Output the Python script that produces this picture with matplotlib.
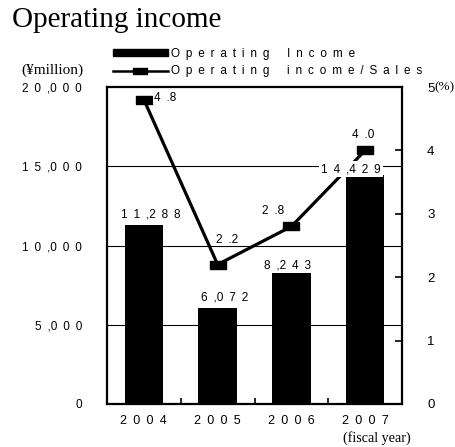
import matplotlib
matplotlib.use("Agg")
import matplotlib.pyplot as plt
from matplotlib.lines import Line2D
from matplotlib.patches import Patch

years = ["2004", "2005", "2006", "2007"]
income = [11288, 6072, 8243, 14429]
income_labels = ["11,288", "6,072", "8,243", "14,429"]
ratio = [4.8, 2.2, 2.8, 4.0]
ratio_labels = ["4.8", "2.2", "2.8", "4.0"]
left_ticks = [0, 5000, 10000, 15000, 20000]
left_tick_labels = ["0", "5,000", "10,000", "15,000", "20,000"]
right_ticks = [0, 1, 2, 3, 4, 5]
legend_labels = ["Operating Income", "Operating income/Sales"]

SANS = ["Liberation Sans", "DejaVu Sans"]
SERIF = "Liberation Serif"
EN = "\u2002"


def track(s):
    """Wide letter spacing as in the original (no gap after , and .)."""
    out = ""
    for i, ch in enumerate(s):
        out += ch
        if i < len(s) - 1 and ch not in ",.":
            out += EN
    return out


fig = plt.figure(figsize=(4.55, 4.47), dpi=100)
ax = fig.add_axes([107/455, 1-404/447, 295/455, 317/447])
x = list(range(len(years)))

ax.set_ylim(0, 20000)
ax.set_xlim(-0.5, 3.5)
for g in [5000, 10000, 15000]:
    ax.axhline(g, color="black", lw=0.8, zorder=0)
bars = ax.bar(x, income, width=0.52, color="black", zorder=2)

ax.set_yticks(left_ticks)
ax.set_yticklabels([track(t) for t in left_tick_labels], fontfamily=SANS, fontsize=8.5)
ax.tick_params(axis="y", length=0, pad=18)
ax.set_xticks(x)
ax.set_xticklabels([track(t) for t in years], fontfamily=SANS, fontsize=9)
ax.tick_params(axis="x", which="major", length=0, pad=8)
ax.set_xticks([0.5, 1.5, 2.5], minor=True)
ax.tick_params(axis="x", which="minor", direction="in", length=4, width=1.2)
for s in ax.spines.values():
    s.set_linewidth(1.6)

ax2 = ax.twinx()
ax2.set_ylim(0, 5)
ax2.set_yticks(right_ticks)
ax2.set_yticklabels([str(t) for t in right_ticks], fontfamily=SANS, fontsize=9.5)
ax2.tick_params(axis="y", direction="in", length=5, width=1.2, pad=18)
for s in ax2.spines.values():
    s.set_visible(False)
rect = [(-1, -0.5), (1, -0.5), (1, 0.5), (-1, 0.5), (-1, -0.5)]
ax2.plot(x, ratio, color="black", lw=2.3, marker=rect, markersize=11.5,
         markerfacecolor="black", zorder=3)

bar_offsets = [(5, 7.5), (5, 7.5), (-3, 6), (-10, 4.5)]
for xi, v, lab, (dx, dy) in zip(x, income, income_labels, bar_offsets):
    ax2.annotate(track(lab), (xi, v), xycoords=ax.transData, xytext=(dx, dy),
                 textcoords="offset points", ha="center", va="center",
                 fontfamily=SANS, fontsize=8.5, zorder=5,
                 bbox=dict(facecolor="white", edgecolor="none", pad=1.5))

offsets = [(7, 1.5, "left"), (7, 18, "center"), (-13, 11, "center"), (-1.5, 11, "center")]
for xi, v, lab, (dx, dy, ha) in zip(x, ratio, ratio_labels, offsets):
    ax2.annotate(track(lab), (xi, v), xytext=(dx, dy), textcoords="offset points",
                 ha=ha, va="center", fontfamily=SANS, fontsize=8.5, zorder=6,
                 bbox=dict(facecolor="white", edgecolor="none", pad=0.5))

fig.text(12/455, 1-20/447, "Operating income", fontfamily=SERIF, fontsize=21,
         ha="left", va="center")
fig.text(52/455, 1-70/447, "(¥million)", fontfamily=SERIF, fontsize=11,
         ha="center", va="center")
fig.text(434/455, 1-87/447, "(%)", fontfamily=SERIF, fontsize=9.5,
         ha="left", va="center")
fig.text(377/455, 1-438/447, "(fiscal year)", fontfamily=SERIF, fontsize=10.2,
         ha="center", va="center")

h1 = Patch(facecolor="black", edgecolor="black")
h2 = Line2D([0], [0], color="black", lw=1.8, marker=rect, markersize=10)
leg_text = [track(l).replace(EN + " " + EN, EN + EN + EN) for l in legend_labels]
fig.legend([h1, h2], leg_text,
           loc="upper left", bbox_to_anchor=(113/455, 1-48/447), frameon=False,
           borderpad=0, borderaxespad=0, handlelength=4.65, handletextpad=0.3,
           labelspacing=0.45, prop={"family": SANS, "size": 8.5}, handleheight=0.5)

fig.savefig("out.png", dpi=100)
